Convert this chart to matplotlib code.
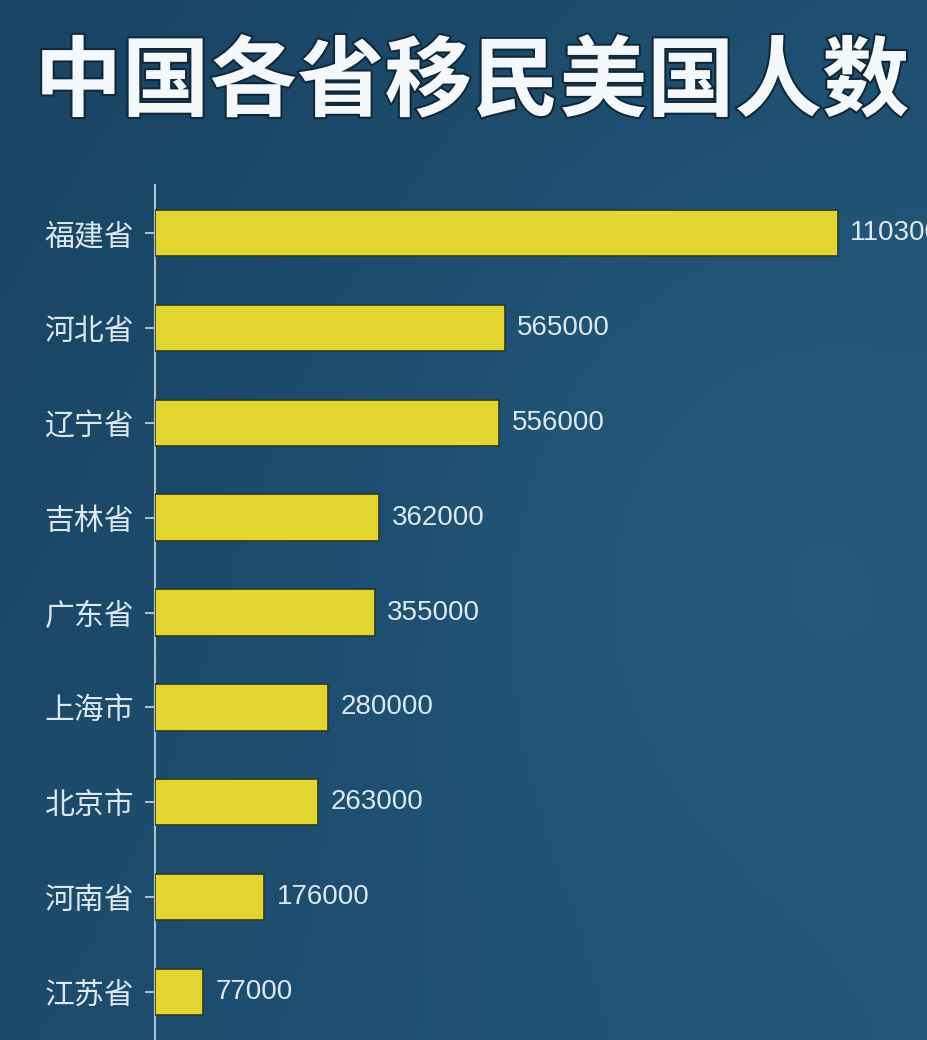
import matplotlib
matplotlib.use("Agg")
import matplotlib.pyplot as plt
import matplotlib.patheffects as pe
from matplotlib.colors import LinearSegmentedColormap
import numpy as np

provinces = ["福建省", "河北省", "辽宁省", "吉林省", "广东省", "上海市", "北京市", "河南省", "江苏省"]
counts = [1103000, 565000, 556000, 362000, 355000, 280000, 263000, 176000, 77000]
title = "中国各省移民美国人数"

plt.rcParams['font.family'] = ['Noto Sans CJK SC', 'DejaVu Sans']

W, H = 927, 1040
fig = plt.figure(figsize=(W / 100, H / 100), dpi=100)
bg = '#1f4b6c'
fig.patch.set_facecolor(bg)

# subtle background gradient
bgax = fig.add_axes([0, 0, 1, 1], zorder=-10)
yy, xx = np.mgrid[0:1:200j, 0:1:200j]
grad = 0.35 * xx + 0.25 * (1 - yy) + 0.3 * np.exp(-((xx - 0.8) ** 2 + (yy - 0.5) ** 2) / 0.15)
cmap = LinearSegmentedColormap.from_list('bg', ['#1a4464', '#245a7c'])
bgax.imshow(grad, cmap=cmap, aspect='auto', extent=[0, 1, 0, 1], origin='lower')
bgax.axis('off')

ax = fig.add_axes([155 / W, 0, 1 - 155 / W, 1 - 185 / H])
ax.set_facecolor('none')

y = np.arange(len(provinces))
ax.barh(y, counts, height=0.49, color='#e3d52f', edgecolor='#2a3a2a', linewidth=1.2, zorder=3)
ax.set_ylim(8.506, -0.506)
ax.set_xlim(0, 1247000)

for yi, v in zip(y, counts):
    ax.annotate(str(v), xy=(v, yi), xytext=(9, 0), textcoords='offset points',
                va='center', ha='left', color='#dde8ee', fontsize=20,
                family=['Liberation Sans', 'DejaVu Sans'], annotation_clip=False, clip_on=False)

ax.set_yticks(y)
ax.set_yticklabels(provinces, fontsize=21.5, color='#dde8ee')
ax.tick_params(axis='y', length=7, width=1.2, color='#c9d6de', pad=8)
ax.set_xticks([])
for s in ['top', 'right', 'bottom']:
    ax.spines[s].set_visible(False)
ax.spines['left'].set_color('#a9c3d3')
ax.spines['left'].set_linewidth(1.5)

fig.text(472 / W, 1 - 84 / H, title, ha='center', va='center', fontsize=63,
         fontweight='bold', color='#f4f8fa',
         path_effects=[pe.withStroke(linewidth=3, foreground='#10283a')])

fig.savefig('out.png', dpi=100, facecolor=fig.get_facecolor())
